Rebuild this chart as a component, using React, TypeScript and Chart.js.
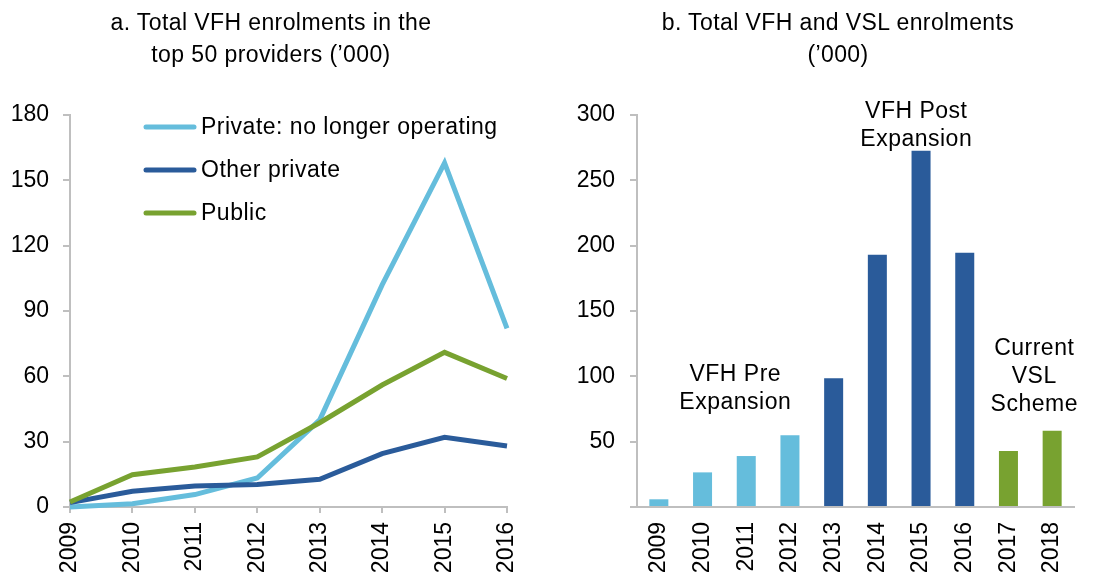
import React, { useEffect, useRef } from 'react';
import { Chart, registerables } from 'chart.js';

Chart.register(...registerables);

// ---------- Data ----------
const lineYears = ['2009', '2010', '2011', '2012', '2013', '2014', '2015', '2016'];
const privateNoLonger = [0, 1.5, 5.7, 13.3, 40, 102, 158, 82];
const otherPrivate = [2, 7.2, 9.6, 10.3, 12.7, 24.5, 32, 28];
const publicProviders = [2.3, 14.8, 18.4, 23, 38.7, 56, 71, 59];
const lineSeriesNames = ['Private: no longer operating', 'Other private', 'Public'];

const barYears = ['2009', '2010', '2011', '2012', '2013', '2014', '2015', '2016', '2017', '2018'];
const totalEnrolments = [5.9, 26.5, 39, 54.9, 98.5, 193, 272.6, 194.5, 42.9, 58.4];
const barPeriods = ['pre', 'pre', 'pre', 'pre', 'post', 'post', 'post', 'post', 'vsl', 'vsl'];

const titleA = ['a. Total VFH enrolments in the', 'top 50 providers (\u2019000)'];
const titleB = ['b. Total VFH and VSL enrolments', '(\u2019000)'];

// ---------- Styles ----------
const LIGHT = '#65BDDC';
const DARK = '#2A5B9A';
const GREEN = '#78A230';
const AXIS = '#BFBFBF';
const FONT = "'Liberation Sans', Arial, Helvetica, sans-serif";
const periodColor: Record<string, string> = { pre: LIGHT, post: DARK, vsl: GREEN };

const annotations = [
  { lines: ['VFH Pre', 'Expansion'], xIndex: 1.75, yValue: 101.6 },
  { lines: ['VFH Post', 'Expansion'], xIndex: 5.89, yValue: 302.3 },
  { lines: ['Current', 'VSL', 'Scheme'], xIndex: 8.59, yValue: 120.9 },
];

const legendPlugin = {
  id: 'customLegend',
  afterDatasetsDraw(chart: any) {
    const { ctx, chartArea } = chart;
    const colors = [LIGHT, DARK, GREEN];
    ctx.save();
    lineSeriesNames.forEach((name, i) => {
      const y = chartArea.top + 12 + i * 43;
      ctx.strokeStyle = colors[i];
      ctx.lineWidth = 5;
      ctx.lineCap = 'round';
      ctx.beginPath();
      ctx.moveTo(chartArea.left + 76, y);
      ctx.lineTo(chartArea.left + 124, y);
      ctx.stroke();
      ctx.fillStyle = '#000';
      ctx.font = `23px ${FONT}`;
      (ctx as any).letterSpacing = '0.5px';
      ctx.textAlign = 'left';
      ctx.textBaseline = 'middle';
      ctx.fillText(name, chartArea.left + 131, y + 1);
    });
    ctx.restore();
  },
};

const annotationPlugin = {
  id: 'periodLabels',
  afterDatasetsDraw(chart: any) {
    const { ctx } = chart;
    const xs = chart.scales.x;
    const ys = chart.scales.y;
    ctx.save();
    ctx.fillStyle = '#000';
    ctx.font = `23px ${FONT}`;
    (ctx as any).letterSpacing = '0.5px';
    ctx.textAlign = 'center';
    ctx.textBaseline = 'middle';
    annotations.forEach((a) => {
      const x = xs.getPixelForValue(a.xIndex);
      const y0 = ys.getPixelForValue(a.yValue);
      a.lines.forEach((ln, i) => ctx.fillText(ln, x, y0 + i * 28));
    });
    ctx.restore();
  },
};

function LeftChart() {
  const ref = useRef<HTMLCanvasElement>(null);
  useEffect(() => {
    const chart = new Chart(ref.current!, {
      type: 'line',
      data: {
        labels: lineYears,
        datasets: [
          { label: lineSeriesNames[0], data: privateNoLonger, borderColor: LIGHT, order: 3 },
          { label: lineSeriesNames[1], data: otherPrivate, borderColor: DARK, order: 2 },
          { label: lineSeriesNames[2], data: publicProviders, borderColor: GREEN, order: 1 },
        ].map((d) => ({
          ...d,
          borderWidth: 5,
          pointRadius: 0,
          tension: 0,
          fill: false,
          clip: false as any,
        })),
      },
      options: {
        responsive: false,
        animation: false,
        layout: { padding: { left: 0, right: 43, top: 115, bottom: 0 } },
        plugins: { legend: { display: false }, tooltip: { enabled: false }, title: { display: false } },
        scales: {
          x: {
            offset: false,
            grid: { display: true, drawOnChartArea: false, drawTicks: true, tickLength: 6, color: AXIS, lineWidth: 2 },
            border: { display: true, color: AXIS, width: 2 },
            ticks: {
              color: '#000',
              font: { family: FONT, size: 23 },
              minRotation: 90,
              maxRotation: 90,
              autoSkip: false,
              padding: 9,
            },
            afterFit: (s: any) => { s.height = 72; },
          },
          y: {
            min: 0,
            max: 180,
            grid: { display: true, drawOnChartArea: false, drawTicks: true, tickLength: 7, color: AXIS, lineWidth: 2 },
            border: { display: true, color: AXIS, width: 2 },
            ticks: { stepSize: 30, color: '#000', font: { family: FONT, size: 23 }, padding: 14 },
            afterFit: (s: any) => { s.width = 70; },
          },
        },
      },
      plugins: [legendPlugin],
    });
    return () => chart.destroy();
  }, []);
  return <canvas ref={ref} width={550} height={579} style={{ position: 'absolute', left: 0, top: 0, width: 550, height: 579 }} />;
}

function RightChart() {
  const ref = useRef<HTMLCanvasElement>(null);
  useEffect(() => {
    const chart = new Chart(ref.current!, {
      type: 'bar',
      data: {
        labels: barYears,
        datasets: [
          {
            label: 'Total enrolments',
            data: totalEnrolments,
            backgroundColor: barPeriods.map((p) => periodColor[p]),
            categoryPercentage: 1,
            barPercentage: 0.435,
          },
        ],
      },
      options: {
        responsive: false,
        animation: false,
        layout: { padding: { left: 0, right: 25, top: 115, bottom: 0 } },
        plugins: { legend: { display: false }, tooltip: { enabled: false }, title: { display: false } },
        scales: {
          x: {
            grid: { display: false, drawTicks: false },
            border: { display: true, color: AXIS, width: 2 },
            ticks: {
              color: '#000',
              font: { family: FONT, size: 23 },
              minRotation: 90,
              maxRotation: 90,
              autoSkip: false,
              padding: 15,
            },
            afterFit: (s: any) => { s.height = 72; },
          },
          y: {
            min: 0,
            max: 300,
            grid: { display: true, drawOnChartArea: false, drawTicks: true, tickLength: 7, color: AXIS, lineWidth: 2 },
            border: { display: true, color: AXIS, width: 2 },
            ticks: {
              stepSize: 50,
              color: '#000',
              font: { family: FONT, size: 23 },
              padding: 15,
              callback: (v: any) => (v === 0 ? '' : String(v)),
            },
            afterFit: (s: any) => { s.width = 87; },
          },
        },
      },
      plugins: [annotationPlugin],
    });
    return () => chart.destroy();
  }, []);
  return <canvas ref={ref} width={549} height={579} style={{ position: 'absolute', left: 550, top: 0, width: 549, height: 579 }} />;
}

const titleStyle: React.CSSProperties = {
  position: 'absolute',
  top: 6,
  fontFamily: FONT,
  fontSize: 23,
  lineHeight: '32px',
  letterSpacing: '0.4px',
  textAlign: 'center',
  color: '#000',
  whiteSpace: 'nowrap',
};

export default function App() {
  return (
    <div style={{ position: 'fixed', left: 0, top: 0, width: 1099, height: 579, background: '#fff', overflow: 'hidden' }}>
      <LeftChart />
      <RightChart />
      <div style={{ ...titleStyle, left: 0, width: 542 }}>
        {titleA.map((t) => <div key={t}>{t}</div>)}
      </div>
      <div style={{ ...titleStyle, left: 577, width: 522 }}>
        {titleB.map((t) => <div key={t}>{t}</div>)}
      </div>
    </div>
  );
}
